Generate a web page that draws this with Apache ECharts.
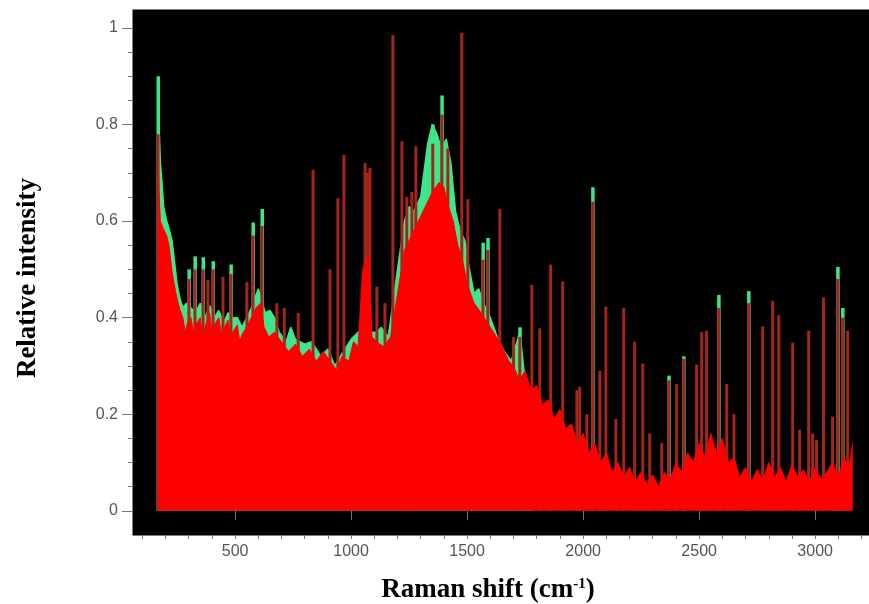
<!DOCTYPE html>
<html><head><meta charset="utf-8">
<script src="https://cdn.jsdelivr.net/npm/echarts@6/dist/echarts.min.js"></script>
<style>html,body{margin:0;padding:0;background:#fff}#c{width:869px;height:604px}</style>
</head><body><div id="c"></div>
<script>
// ---- tick labels ----
const xTickLabels = [500, 1000, 1500, 2000, 2500, 3000];
const xMinorTicks = [100,200,300,400,500,600,700,800,900,1000,1100,1200,1300,1400,1500,1600,1700,1800,1900,2000,2100,2200,2300,2400,2500,2600,2700,2800,2900,3000,3100,3200];
const yTickLabels = [0, 0.2, 0.4, 0.6, 0.8, 1];
const yMinorTicks = [0,0.05,0.1,0.15,0.2,0.25,0.3,0.35,0.4,0.45,0.5,0.55,0.6,0.65,0.7,0.75,0.8,0.85,0.9,0.95,1];

// ---- main (red) spectrum body ----
const bodyShift = [168,172,178,190,205,215,230,245,260,275,285,295,310,320,330,350,360,370,390,400,410,430,440,450,470,480,490,510,520,530,550,570,590,610,625,645,670,700,730,760,790,820,850,880,910,940,960,990,1010,1030,1050,1075,1090,1110,1140,1170,1200,1230,1260,1290,1320,1350,1380,1400,1420,1440,1460,1480,1500,1530,1560,1600,1640,1680,1700,1725,1750,1775,1800,1825,1850,1875,1900,1925,1950,1975,2000,2025,2050,2075,2100,2125,2150,2175,2200,2225,2250,2275,2300,2325,2350,2375,2400,2425,2450,2475,2500,2525,2550,2575,2600,2625,2650,2675,2700,2725,2750,2775,2800,2825,2850,2875,2900,2925,2950,2975,3000,3025,3050,3075,3100,3125,3145,3162];
const bodyIntensity = [0.72,0.66,0.60,0.585,0.57,0.55,0.49,0.45,0.42,0.40,0.37,0.39,0.40,0.37,0.385,0.40,0.36,0.38,0.41,0.37,0.385,0.40,0.37,0.375,0.395,0.36,0.37,0.385,0.35,0.365,0.38,0.40,0.42,0.43,0.38,0.36,0.37,0.35,0.33,0.345,0.32,0.335,0.31,0.33,0.31,0.29,0.32,0.31,0.35,0.34,0.50,0.53,0.36,0.35,0.34,0.36,0.45,0.54,0.57,0.60,0.63,0.66,0.68,0.67,0.63,0.60,0.55,0.52,0.47,0.43,0.41,0.38,0.35,0.31,0.30,0.27,0.29,0.25,0.26,0.22,0.23,0.19,0.21,0.17,0.18,0.14,0.16,0.12,0.14,0.10,0.12,0.08,0.10,0.07,0.09,0.06,0.08,0.055,0.075,0.05,0.08,0.065,0.10,0.08,0.12,0.10,0.14,0.11,0.16,0.12,0.15,0.10,0.11,0.07,0.09,0.06,0.085,0.065,0.10,0.07,0.09,0.06,0.095,0.07,0.085,0.06,0.09,0.065,0.08,0.10,0.07,0.11,0.09,0.14,0.11,0.13,0.08];

// ---- second (green) spectrum, upper envelope ----
const greenShift = [168,172,178,185,192,205,215,228,238,250,262,275,290,310,330,350,370,390,410,430,450,470,490,510,530,550,570,600,630,650,670,690,720,740,760,800,830,870,900,930,960,1000,1030,1110,1130,1160,1200,1230,1250,1270,1300,1330,1350,1370,1390,1410,1430,1450,1470,1490,1510,1530,1550,1570,1600,1630,1660,1690,1727,1750,1775];
const greenIntensity = [0.88,0.80,0.72,0.68,0.63,0.60,0.585,0.56,0.52,0.47,0.44,0.42,0.43,0.42,0.41,0.43,0.40,0.425,0.40,0.415,0.39,0.41,0.40,0.40,0.38,0.40,0.42,0.46,0.41,0.415,0.40,0.37,0.35,0.38,0.355,0.345,0.35,0.32,0.335,0.30,0.325,0.355,0.37,0.37,0.38,0.36,0.50,0.60,0.63,0.62,0.65,0.76,0.80,0.78,0.75,0.77,0.72,0.62,0.58,0.56,0.50,0.45,0.46,0.43,0.40,0.36,0.33,0.31,0.37,0.27,0.25];

// ---- sharp peaks (dark red lines) ----
const peakShift = [168,301,327,362,383,405,448,482,551,577,616,680,712,772,836,909,943,969,1060,1070,1081,1111,1146,1180,1219,1240,1262,1279,1352,1391,1417,1477,1503,1568,1589,1641,1700,1727,1779,1813,1860,1912,1973,1985,2016,2041,2072,2098,2141,2175,2222,2257,2287,2339,2369,2403,2433,2489,2511,2532,2584,2619,2650,2713,2774,2817,2843,2903,2933,2972,2989,3006,3036,3075,3097,3118,3140];
const peakIntensity = [0.78,0.48,0.50,0.50,0.478,0.50,0.485,0.49,0.474,0.57,0.59,0.43,0.42,0.41,0.706,0.50,0.647,0.737,0.72,0.70,0.71,0.464,0.43,0.985,0.765,0.65,0.66,0.755,0.76,0.82,0.75,0.99,0.645,0.52,0.54,0.625,0.36,0.36,0.468,0.378,0.51,0.475,0.25,0.257,0.20,0.64,0.29,0.423,0.19,0.42,0.35,0.305,0.16,0.14,0.27,0.263,0.315,0.303,0.37,0.373,0.42,0.263,0.20,0.43,0.382,0.435,0.405,0.348,0.168,0.373,0.16,0.147,0.442,0.195,0.48,0.40,0.373];

// ---- green peak tips ----
const tipShift = [168,301,327,362,405,482,577,616,1352,1391,1568,1589,1727,2041,2369,2433,2584,2713,3097,3118];
const tipIntensity = [0.90,0.50,0.527,0.525,0.517,0.51,0.597,0.625,0.80,0.86,0.555,0.565,0.38,0.67,0.28,0.32,0.447,0.455,0.505,0.42];

const zip = (a, b) => a.map((v, i) => [v, b[i]]);

const GREEN = '#3fe58a';
const RED = '#ff0000';
const DARK = '#a3261a';
const X_MIN = 60, X_MAX = 3232, Y_MIN = -0.05, Y_MAX = 1.037;
const TICK_FONT = '"Liberation Sans", Arial, sans-serif';
const TITLE_FONT = '"Liberation Serif", "Times New Roman", serif';

const chart = echarts.init(document.getElementById('c'), null, {renderer: 'canvas'});
chart.setOption({
  animation: false,
  backgroundColor: '#ffffff',
  grid: {left: 133, top: 10, right: 0, bottom: 69, show: true, backgroundColor: '#000000', borderColor: '#000000', borderWidth: 1},
  xAxis: [
    {type: 'value', min: X_MIN, max: X_MAX, position: 'bottom',
     axisLine: {show: true, lineStyle: {color: '#000'}},
     axisTick: {show: true, customValues: xTickLabels, length: 9, lineStyle: {color: '#777'}},
     axisLabel: {customValues: xTickLabels, color: '#555', fontSize: 16, margin: 9, fontFamily: TICK_FONT,
                 formatter: (v) => String(v)},
     splitLine: {show: false}},
    {type: 'value', min: X_MIN, max: X_MAX, position: 'top', offset: -525,
     axisLine: {show: false},
     axisTick: {show: true, inside: true, customValues: xMinorTicks, length: 4, lineStyle: {color: '#777'}},
     axisLabel: {show: false}, splitLine: {show: false}}
  ],
  yAxis: [
    {type: 'value', min: Y_MIN, max: Y_MAX, position: 'left',
     axisLine: {show: true, lineStyle: {color: '#000'}},
     axisTick: {show: true, customValues: yTickLabels, length: 11, lineStyle: {color: '#777'}},
     axisLabel: {customValues: yTickLabels, color: '#555', fontSize: 16, margin: 15, fontFamily: TICK_FONT,
                 formatter: (v) => String(v)},
     splitLine: {show: false}},
    {type: 'value', min: Y_MIN, max: Y_MAX, position: 'right', offset: -736,
     axisLine: {show: false},
     axisTick: {show: true, inside: true, customValues: yMinorTicks, length: 5, lineStyle: {color: '#777'}},
     axisLabel: {show: false}, splitLine: {show: false}}
  ],
  title: {
    text: 'Raman shift (cm{sup|-1})',
    left: 483, top: 572, textAlign: 'center',
    textStyle: {fontFamily: TITLE_FONT, fontWeight: 'bold', fontSize: 27, color: '#000',
      rich: {sup: {fontFamily: TITLE_FONT, fontWeight: 'bold', fontSize: 15, color: '#000', verticalAlign: 'top', padding: [0, 0, 12, 0]}}}
  },
  graphic: [
    {type: 'text', x: 28, y: 278, rotation: Math.PI / 2,
     style: {text: 'Relative intensity', font: 'bold 27px ' + TITLE_FONT, fill: '#000',
             textAlign: 'center', textVerticalAlign: 'middle', align: 'center', verticalAlign: 'middle'}}
  ],
  series: [
    {type: 'line', name: 'green', data: zip(greenShift, greenIntensity), showSymbol: false, z: 1,
     lineStyle: {color: GREEN, width: 1.5}, areaStyle: {color: GREEN, opacity: 1}},
    {type: 'bar', name: 'tips', data: zip(tipShift, tipIntensity), barWidth: 3.5, z: 2,
     itemStyle: {color: GREEN}},
    {type: 'bar', name: 'peaks', data: zip(peakShift, peakIntensity), barWidth: 3, barGap: '-100%', z: 3,
     itemStyle: {color: DARK}},
    {type: 'line', name: 'body', data: zip(bodyShift, bodyIntensity), showSymbol: false, z: 4,
     lineStyle: {color: RED, width: 1}, areaStyle: {color: RED, opacity: 1}}
  ]
});
</script></body></html>
